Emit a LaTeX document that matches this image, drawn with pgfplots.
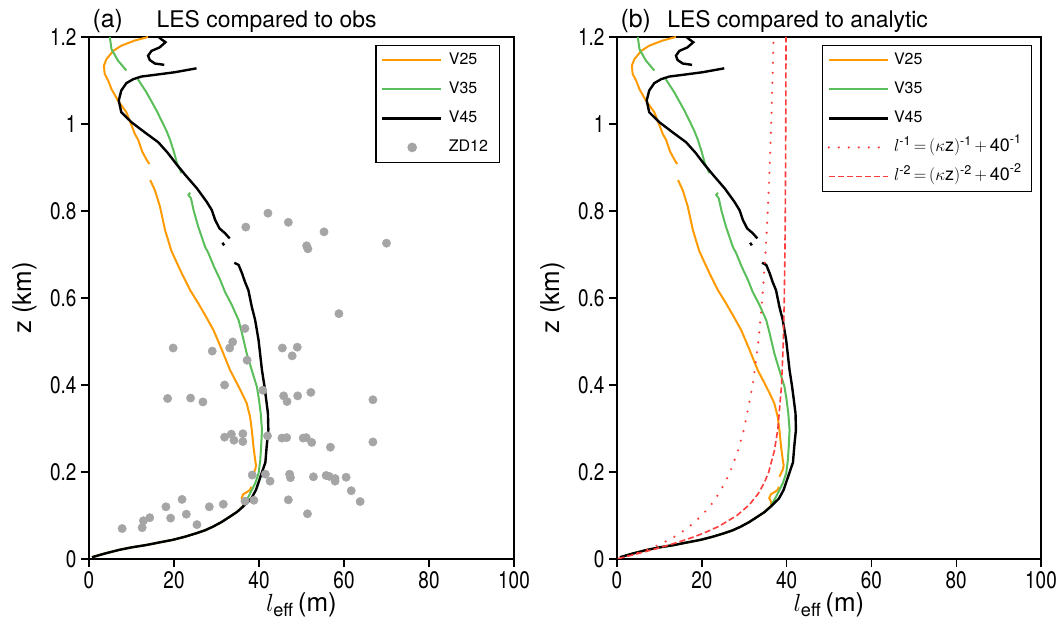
\documentclass[border=0pt]{standalone}
\usepackage{amsmath}
\usepackage{pgfplots}
\pgfplotsset{compat=1.18}
\usepackage{pgfplotstable}
\usepackage{fontspec}
\setmainfont{TeX Gyre Heros}
\definecolor{cOr}{RGB}{255,155,0}
\definecolor{cGr}{RGB}{90,190,90}
\definecolor{cGy}{RGB}{165,165,165}
\definecolor{cRd}{RGB}{255,60,60}

\pgfplotstableread{
x z
0.7 0.004
3.5 0.012
7.1 0.021
10.2 0.027
13.4 0.032
16.5 0.038
19.7 0.044
22.5 0.051
25.2 0.059
27.3 0.066
29.1 0.074
31.2 0.085
33.1 0.097
34.8 0.108
36.2 0.120
38.2 0.139
39.3 0.159
40.1 0.182
40.9 0.205
41.5 0.222
41.8 0.258
42.2 0.297
42.1 0.335
41.7 0.366
41.3 0.396
40.7 0.434
39.9 0.503
39.1 0.549
38.3 0.580
37.5 0.618
36.7 0.637
36.0 0.657
35.2 0.676
34.2 0.681
nan nan
31.4 0.727
31.8 0.721
nan nan
33.1 0.737
32.0 0.749
30.7 0.760
29.7 0.779
28.9 0.802
27.7 0.821
25.4 0.852
23.0 0.879
20.7 0.906
18.5 0.934
16.3 0.958
13.1 0.981
10.0 1.004
7.6 1.027
7.0 1.054
7.6 1.077
8.8 1.094
10.4 1.103
12.3 1.109
15.5 1.113
20.2 1.119
25.3 1.128
nan nan
17.7 1.136
15.5 1.139
14.3 1.147
13.9 1.157
14.7 1.168
16.6 1.176
18.0 1.188
17.0 1.195
16.4 1.200
}\vfortyfive

\pgfplotstableread{
x z
0.7 0.004
3.5 0.012
7.1 0.021
10.2 0.027
13.4 0.032
16.5 0.038
19.7 0.044
22.5 0.051
25.2 0.059
27.3 0.066
29.1 0.074
31.2 0.085
33.1 0.097
34.8 0.108
36.3 0.122
36.4 0.130
35.9 0.140
36.3 0.149
37.2 0.154
37.9 0.159
38.2 0.166
nan nan
38.3 0.189
39.1 0.205
39.3 0.215
39.1 0.228
38.7 0.258
38.3 0.297
37.9 0.327
37.1 0.358
36.0 0.381
34.8 0.404
33.2 0.434
31.3 0.480
29.3 0.526
27.3 0.561
25.7 0.588
23.8 0.618
22.2 0.649
20.9 0.676
19.4 0.708
17.9 0.756
16.7 0.810
15.5 0.848
14.4 0.871
nan nan
14.2 0.908
13.6 0.917
12.5 0.937
11.6 0.963
10.8 0.977
8.8 1.027
6.8 1.054
5.3 1.080
4.5 1.100
3.7 1.115
3.5 1.134
4.1 1.149
5.7 1.168
7.6 1.180
10.8 1.192
13.9 1.200
}\vtwentyfive

\pgfplotstableread{
x z
0.7 0.004
3.5 0.012
7.1 0.021
10.2 0.027
13.4 0.032
16.5 0.038
19.7 0.044
22.5 0.051
25.2 0.059
27.3 0.066
29.1 0.074
31.2 0.085
33.1 0.097
34.8 0.108
36.2 0.120
37.5 0.143
39.1 0.174
39.9 0.197
40.3 0.228
40.5 0.258
40.7 0.297
40.4 0.335
40.0 0.366
39.5 0.396
38.3 0.434
37.1 0.473
36.0 0.519
35.2 0.549
33.6 0.584
32.0 0.614
30.9 0.641
29.5 0.670
28.1 0.703
27.3 0.718
25.7 0.764
24.6 0.802
24.0 0.829
23.4 0.837
23.8 0.842
nan nan
21.8 0.887
20.7 0.910
20.0 0.935
19.1 0.963
18.2 0.985
15.9 1.031
13.5 1.073
11.5 1.103
nan nan
8.8 1.123
6.8 1.146
5.3 1.172
4.9 1.200
}\vthirtyfive

\pgfplotstableread{
x z
31.9 0.400
40.9 0.388
45.8 0.375
49.1 0.375
52.2 0.383
46.6 0.362
18.5 0.369
23.9 0.370
26.8 0.361
66.8 0.366
31.9 0.280
33.5 0.287
34.1 0.273
36.2 0.288
36.2 0.270
42.0 0.283
45.4 0.278
46.5 0.279
50.4 0.278
51.1 0.279
52.4 0.268
56.8 0.257
66.8 0.269
38.4 0.193
41.5 0.195
42.6 0.179
47.2 0.195
47.4 0.187
52.8 0.189
55.8 0.192
56.5 0.190
57.9 0.185
57.9 0.179
60.5 0.188
61.7 0.157
63.8 0.132
46.9 0.136
51.4 0.104
36.7 0.133
38.8 0.135
21.9 0.137
18.1 0.120
28.3 0.120
31.6 0.126
14.3 0.095
12.8 0.088
19.2 0.094
22.9 0.103
12.5 0.072
7.8 0.070
25.4 0.079
42.1 0.795
46.9 0.774
36.9 0.763
55.3 0.752
51.2 0.720
51.5 0.713
70.0 0.726
58.8 0.564
36.7 0.530
19.8 0.485
29.0 0.478
33.1 0.485
33.8 0.499
37.2 0.457
45.5 0.485
49.0 0.487
47.8 0.467
}\zdtwelve

\pgfplotstableread{
x z
0.396 0.001
1.905 0.005
3.636 0.010
6.667 0.020
9.231 0.030
11.429 0.040
13.333 0.050
15.000 0.060
17.143 0.075
20.000 0.100
22.222 0.125
24.000 0.150
25.455 0.175
26.667 0.200
28.571 0.250
30.000 0.300
32.000 0.400
33.333 0.500
34.286 0.600
35.000 0.700
35.556 0.800
36.000 0.900
36.364 1.000
36.667 1.100
36.923 1.200
}\anaone

\pgfplotstableread{
x z
0.400 0.001
1.998 0.005
3.980 0.010
7.845 0.020
11.494 0.030
14.856 0.040
17.889 0.050
20.580 0.060
24.000 0.075
28.284 0.100
31.235 0.125
33.282 0.150
34.730 0.175
35.777 0.200
37.139 0.250
37.947 0.300
38.806 0.400
39.223 0.500
39.456 0.600
39.598 0.700
39.691 0.800
39.755 0.900
39.801 1.000
39.835 1.100
39.862 1.200
}\anatwo

\pgfplotsset{
  myaxis/.style={
    scale only axis, width=425bp, height=522bp, anchor=south west,
    xmin=0, xmax=100, ymin=0, ymax=1.2,
    xtick={0,20,...,100}, ytick={0,0.2,...,1.2},
    tick align=outside, xtick pos=bottom, ytick pos=left,
    major tick length=8bp,
    axis line style={line width=1.6bp},
    every tick/.style={line width=1.4bp, black},
    tick label style={font=\fontsize{20}{22}\selectfont},
    xticklabel={\scalebox{0.95}[1.2]{\pgfmathprintnumber[assume math mode=true]{\tick}}},
    yticklabel={\scalebox{0.95}[1.2]{\pgfmathprintnumber[assume math mode=true,fixed]{\tick}}},
    yticklabel style={xshift=-1bp},
    xticklabel style={yshift=-1bp},
    every axis y label/.style={at={(axis description cs:-0.152,0.5)}, rotate=90, anchor=center},
    every axis x label/.style={at={(axis description cs:0.5,-0.088)}, anchor=center},
    label style={font=\fontsize{26}{30}\selectfont},
    xlabel={$l_{\text{eff}}$\,(m)},
    ylabel={z (km)},
    unbounded coords=jump,
    clip mode=individual,
    legend cell align=left,
    legend style={font=\fontsize{16}{19}\selectfont, line width=1.2bp, draw=black,
      inner xsep=5bp, inner ysep=4bp, row sep=7bp,
      nodes={inner xsep=5bp, inner ysep=2bp, text height=13bp, text depth=5bp}},
    legend image code/.code={\draw[#1] (0bp,0bp) -- (59bp,0bp);},
  },
}

\begin{document}
\begin{tikzpicture}
\useasboundingbox (0,0) rectangle (1059bp,625bp);
\begin{axis}[myaxis, at={(89bp,66bp)},
  legend style={at={(0.967,0.985)}, anchor=north east, nodes={inner xsep=6.5bp}}]
\addplot[cOr, line width=2bp] table[x=x,y=z] {\vtwentyfive};
\addlegendentry{V25}
\addplot[cGr, line width=2bp] table[x=x,y=z] {\vthirtyfive};
\addlegendentry{V35}
\addplot[black, line width=2.4bp] table[x=x,y=z] {\vfortyfive};
\addlegendentry{V45}
\addplot[only marks, mark=*, mark size=4.2bp, cGy, mark options={draw=none, fill=cGy},
  legend image code/.code={\fill[cGy] (30bp,0bp) circle (4.2bp);}] table[x=x,y=z] {\zdtwelve};
\addlegendentry{ZD12}
\node[anchor=base west, font=\fontsize{25}{30}\selectfont] at (axis description cs:0,1.019) {(a)};
\node[anchor=base, font=\fontsize{23}{27}\selectfont] at (axis description cs:0.418,1.019) {LES compared to obs};
\end{axis}
\begin{axis}[myaxis, at={(617bp,66bp)}, width=424bp,
  legend style={at={(0.979,0.985)}, anchor=north east}]
\addplot[cOr, line width=2bp] table[x=x,y=z] {\vtwentyfive};
\addlegendentry{V25}
\addplot[cGr, line width=2bp] table[x=x,y=z] {\vthirtyfive};
\addlegendentry{V35}
\addplot[black, line width=2.4bp] table[x=x,y=z] {\vfortyfive};
\addlegendentry{V45}
\addplot[cRd, line width=2.4bp, line cap=round, dash pattern=on 0bp off 10bp] table[x=x,y=z] {\anaone};
\addlegendentry{\fontsize{18}{20}\selectfont$l^{\text{-1}}\,{=}\,(\kappa\mathrm{z})^{\text{-1}}\,{+}\,\text{40}^{\text{-1}}$}
\addplot[cRd, line width=1.6bp, dash pattern=on 6bp off 3bp] table[x=x,y=z] {\anatwo};
\addlegendentry{\fontsize{18}{20}\selectfont$l^{\text{-2}}\,{=}\,(\kappa\mathrm{z})^{\text{-2}}\,{+}\,\text{40}^{\text{-2}}$}
\node[anchor=base west, font=\fontsize{25}{30}\selectfont] at (axis description cs:0,1.019) {(b)};
\node[anchor=base, font=\fontsize{23}{27}\selectfont] at (axis description cs:0.426,1.019) {LES compared to analytic};
\end{axis}
\end{tikzpicture}
\end{document}
